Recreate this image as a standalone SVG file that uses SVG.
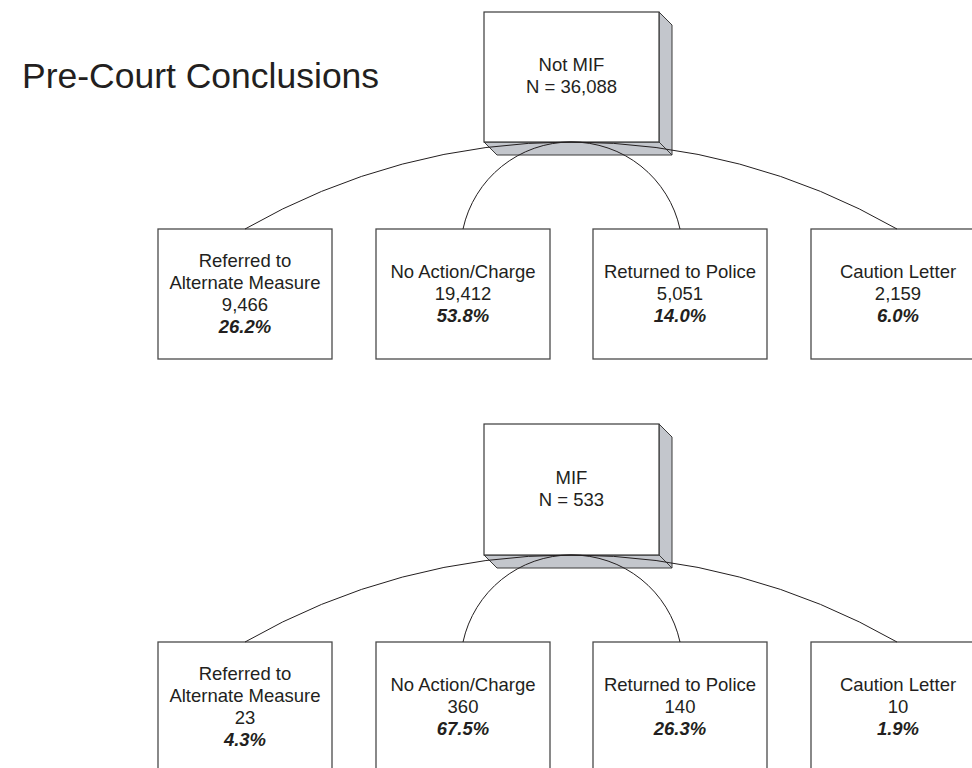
<svg xmlns="http://www.w3.org/2000/svg" width="972" height="768" viewBox="0 0 972 768">
<style>
.bg{fill:#ffffff}
.front{fill:#ffffff;stroke:#3a3a3a;stroke-width:1.2}
.side{fill:#c3c6cc;stroke:#3a3a3a;stroke-width:1}
.box{fill:#ffffff;stroke:#4a4a4a;stroke-width:1.3}
.t{font-family:"Liberation Sans",Arial,sans-serif;font-size:18.5px;fill:#231f20;text-anchor:middle}
.p{font-weight:bold;font-style:italic}
.title{font-family:"Liberation Sans",Arial,sans-serif;font-size:35.5px;fill:#231f20}
.c{fill:none;stroke:#231f20;stroke-width:1}
</style>
<rect class="bg" x="0" y="0" width="972" height="768"/>
<text class="title" x="22" y="88">Pre-Court Conclusions</text>

<!-- Top tree -->
<g id="notmif">
<polygon class="side" points="659,12 672,25 672,155 659,142"/>
<polygon class="side" points="484,142 659,142 672,155 497,155"/>
<rect class="front" x="484" y="12" width="175" height="130"/>
<text class="t" x="571.5" y="71">Not MIF</text>
<text class="t" x="571.5" y="93">N = 36,088</text>
</g>
<g id="t_ref">
<rect class="box" x="158" y="229" width="174" height="130"/>
<text class="t" x="245" y="267">Referred to</text>
<text class="t" x="245" y="289">Alternate Measure</text>
<text class="t" x="245" y="311">9,466</text>
<text class="t p" x="245" y="333">26.2%</text>
</g>
<g id="t_noact">
<rect class="box" x="376" y="229" width="174" height="130"/>
<text class="t" x="463" y="278">No Action/Charge</text>
<text class="t" x="463" y="300">19,412</text>
<text class="t p" x="463" y="322">53.8%</text>
</g>
<g id="t_ret">
<rect class="box" x="593" y="229" width="174" height="130"/>
<text class="t" x="680" y="278">Returned to Police</text>
<text class="t" x="680" y="300">5,051</text>
<text class="t p" x="680" y="322">14.0%</text>
</g>
<g id="t_caut">
<rect class="box" x="811" y="229" width="174" height="130"/>
<text class="t" x="898" y="278">Caution Letter</text>
<text class="t" x="898" y="300">2,159</text>
<text class="t p" x="898" y="322">6.0%</text>
</g>

<!-- Bottom tree -->
<g id="mif">
<polygon class="side" points="659,424 672,437 672,568 659,555"/>
<polygon class="side" points="484,555 659,555 672,568 497,568"/>
<rect class="front" x="484" y="424" width="175" height="131"/>
<text class="t" x="571.5" y="484">MIF</text>
<text class="t" x="571.5" y="506">N = 533</text>
</g>
<g id="b_ref">
<rect class="box" x="158" y="642" width="174" height="130"/>
<text class="t" x="245" y="680">Referred to</text>
<text class="t" x="245" y="702">Alternate Measure</text>
<text class="t" x="245" y="724">23</text>
<text class="t p" x="245" y="746">4.3%</text>
</g>
<g id="b_noact">
<rect class="box" x="376" y="642" width="174" height="130"/>
<text class="t" x="463" y="691">No Action/Charge</text>
<text class="t" x="463" y="713">360</text>
<text class="t p" x="463" y="735">67.5%</text>
</g>
<g id="b_ret">
<rect class="box" x="593" y="642" width="174" height="130"/>
<text class="t" x="680" y="691">Returned to Police</text>
<text class="t" x="680" y="713">140</text>
<text class="t p" x="680" y="735">26.3%</text>
</g>
<g id="b_caut">
<rect class="box" x="811" y="642" width="174" height="130"/>
<text class="t" x="898" y="691">Caution Letter</text>
<text class="t" x="898" y="713">10</text>
<text class="t p" x="898" y="735">1.9%</text>
</g>

<g id="connectors">
<path class="c" d="M571,142 A654,654 0 0 0 245,229"/>
<path class="c" d="M571,142 A110.5,110.5 0 0 0 463,229"/>
<path class="c" d="M571,142 A110.5,110.5 0 0 1 680,229"/>
<path class="c" d="M571,142 A654,654 0 0 1 897,229"/>
<path class="c" d="M571,555 A654,654 0 0 0 245,642"/>
<path class="c" d="M571,555 A110.5,110.5 0 0 0 463,642"/>
<path class="c" d="M571,555 A110.5,110.5 0 0 1 680,642"/>
<path class="c" d="M571,555 A654,654 0 0 1 897,642"/>
</g>
</svg>
